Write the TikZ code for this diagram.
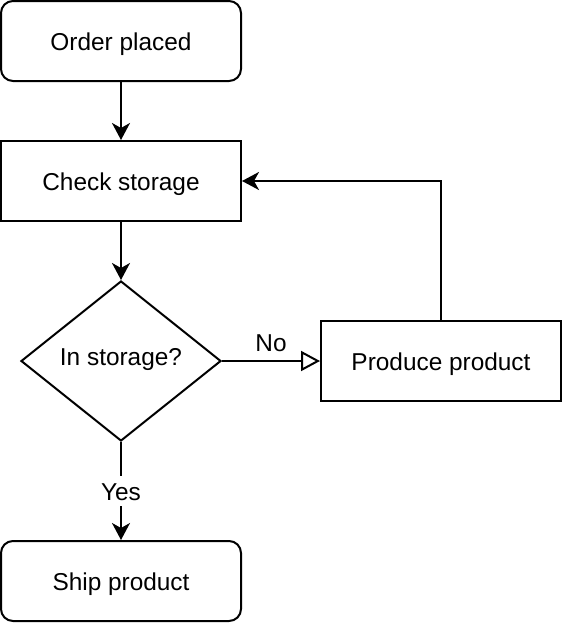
\documentclass[tikz,border=0pt]{standalone}
\usepackage{fontspec}
\setmainfont{Liberation Sans}
\usetikzlibrary{shapes.geometric,arrows.meta}

\begin{document}
\begin{tikzpicture}[x=1pt,y=1pt]
			\tikzstyle{event} = [draw, rounded corners=12pt, minimum width=240pt, minimum height=80pt, inner sep=0pt]
			\tikzstyle{process} = [draw, minimum width=240pt, minimum height=80pt, inner sep=0pt]
			\tikzstyle{decision} = [draw, diamond, minimum width=200pt, minimum height=160pt, inner sep=0pt]
			\tikzset{edge/.style = {-{Stealth[length=17pt,width=18pt,inset=5pt]}}}
			\tikzset{noedge/.style = {-{Triangle[open,length=19pt,width=20pt]}}}
			\tikzset{every node/.style = {font=\fontsize{24.4}{28}\selectfont, text height=22pt, text depth=4pt, line width=2pt}}
			\tikzset{every path/.style = {line width=2pt}}
			
			\useasboundingbox (0,0) rectangle (564,-624);
			
			\node[event](order) at (121,-41) {Order placed};
			\node[process](check) at (121,-181) {Check storage};
			\node[decision, label={[yshift=5pt]center:In storage?}](instorage) at (121,-361) {};
			\node[process](produce) at (441,-361) {Produce product};
			\node[event](ship) at (121,-581) {Ship product};
			
			\draw[edge](order) to (check);
			\draw[edge](check) to (instorage);
			\draw[noedge](instorage.east) to node[above=1pt]{No} (produce.west);
			\draw[edge](instorage.south) to node[fill=white, inner sep=2pt]{Yes} (ship.north);
			\draw[edge](produce.north) |- (check.east);
			
\end{tikzpicture}
\end{document}
